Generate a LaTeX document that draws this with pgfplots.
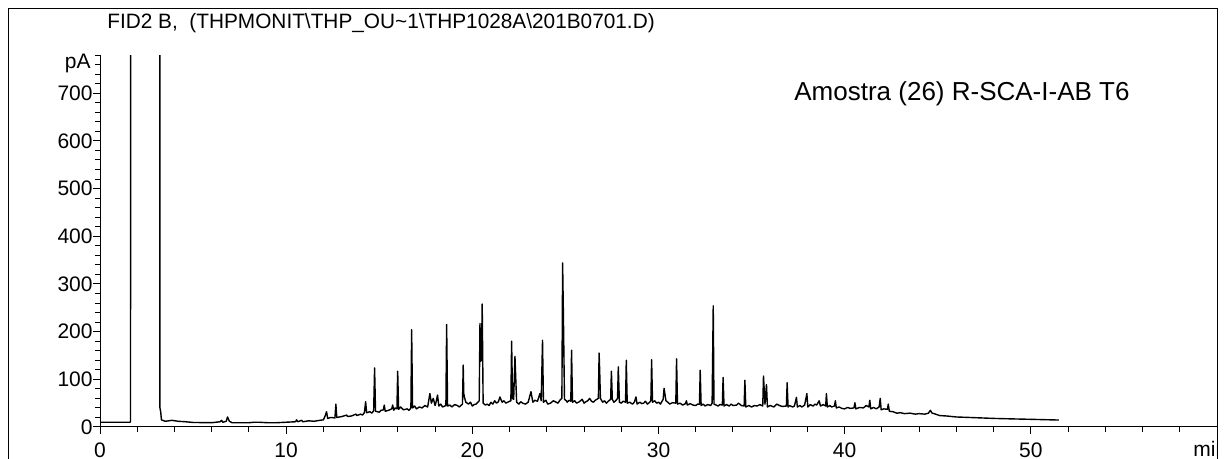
\documentclass[border=0pt]{standalone}
\usepackage{pgfplots}
\pgfplotsset{compat=1.18}
\usepackage{fontspec}
\setmainfont{Liberation Sans}
\begin{document}
\begin{tikzpicture}
\useasboundingbox (0,0) rectangle (614pt,-229.5pt);
\draw[line width=0.5pt] (4pt,-4.5pt) rectangle (608.5pt,-240pt);
\begin{axis}[
  at={(50pt,-213.5pt)}, anchor=south west,
  scale only axis, width=558.5pt, height=186pt,
  xmin=0, xmax=60, ymin=0, ymax=780,
  enlargelimits=false,
  axis lines=left, axis line style={-, line width=0.5pt},
  xtick={0,10,...,50}, minor xtick={0,2,...,58},
  ytick={0,100,...,700}, minor ytick={0,20,...,780},
  tick align=outside,
  major tick length=3.5pt, minor tick length=2.5pt,
  every tick/.style={black, line width=0.5pt},
  /pgf/number format/assume math mode=true,
  ticklabel style={font=\fontsize{10.5}{12}\selectfont},
  xticklabel style={anchor=base, inner sep=0pt, yshift=-11.7pt},
  yticklabel style={anchor=east, inner sep=0pt},
  clip=true,
]
\addplot[black, line width=0.7pt, line join=round] coordinates {
(0,10) (1.6,10) (1.64,11) (1.66,5000) (3.18,5000) (3.22,40) (3.26,32) (3.3,15) (3.5,12) (3.7,13) (3.85,14) (4.2,12) (4.6,11) (5,9.5) (6.0,9) (6.45,11) (6.53,14) (6.6,10) (6.78,12) (6.85,21) (6.95,12) (7.1,9) (8,9) (8.3,10) (8.5,10) (9,9) (9.5,9) (10,10) (10.5,11) (10.56,15) (10.62,11) (10.83,14) (10.9,11) (11.2,13) (11.5,12) (11.8,14) (12,15) (12.08,22) (12.17,32) (12.23,18) (12.4,20) (12.62,19) (12.67,48) (12.72,20) (13,22) (13.25,25) (13.3,22) (13.5,23) (13.75,27) (13.8,24) (14,27) (14.1,25) (14.2,30) (14.27,53) (14.32,30) (14.5,32) (14.6,29) (14.7,34) (14.75,124) (14.8,33) (15,31) (15.1,35) (15.22,36) (15.27,46) (15.32,33) (15.5,35) (15.67,38) (15.72,46) (15.78,35) (15.85,40) (15.95,38) (15.99,117) (16.04,37) (16.15,42) (16.3,36) (16.5,38) (16.6,35) (16.7,40) (16.74,204) (16.79,40) (16.9,44) (17.0,38) (17.15,42) (17.3,40) (17.45,45) (17.6,42) (17.72,70) (17.8,50) (17.9,60) (18.0,45) (18.07,55) (18.13,67) (18.2,44) (18.3,48) (18.4,42) (18.58,45) (18.62,215) (18.67,44) (18.8,46) (18.9,42) (19.05,47) (19.2,45) (19.3,42) (19.47,48) (19.51,130) (19.54,70) (19.58,62) (19.65,52) (19.8,48) (19.9,52) (20.0,44) (20.1,47) (20.2,48) (20.37,55) (20.41,217) (20.45,138) (20.49,140) (20.53,258) (20.58,50) (20.7,46) (20.8,48) (20.9,45) (21.0,52) (21.1,48) (21.2,55) (21.3,50) (21.4,53) (21.48,63) (21.6,52) (21.7,55) (21.8,50) (21.95,53) (22.07,55) (22.11,180) (22.16,60) (22.22,58) (22.29,148) (22.33,105) (22.38,52) (22.5,48) (22.6,53) (22.7,50) (22.85,48) (23.0,52) (23.15,74) (23.25,52) (23.35,56) (23.5,54) (23.63,70) (23.7,55) (23.77,182) (23.82,52) (23.95,56) (24.05,48) (24.2,50) (24.35,55) (24.5,52) (24.6,50) (24.7,56) (24.81,60) (24.85,344) (24.89,241) (24.95,58) (25.05,55) (25.1,52) (25.2,56) (25.29,54) (25.33,161) (25.38,52) (25.5,55) (25.6,50) (25.75,53) (25.9,58) (26.0,50) (26.1,53) (26.2,55) (26.3,60) (26.4,54) (26.5,52) (26.6,56) (26.77,60) (26.81,155) (26.84,119) (26.88,60) (27.0,52) (27.1,55) (27.2,50) (27.3,54) (27.43,58) (27.47,117) (27.52,58) (27.6,52) (27.7,55) (27.8,60) (27.84,126) (27.9,52) (28.0,50) (28.1,54) (28.23,52) (28.27,140) (28.32,50) (28.45,52) (28.6,48) (28.7,52) (28.79,63) (28.85,48) (29.0,52) (29.1,49) (29.2,50) (29.3,54) (29.4,48) (29.5,51) (29.59,55) (29.63,141) (29.68,52) (29.8,55) (29.9,50) (30.0,52) (30.1,48) (30.25,58) (30.3,81) (30.4,55) (30.5,52) (30.6,48) (30.75,51) (30.93,50) (30.97,143) (31.02,48) (31.15,50) (31.3,46) (31.45,49) (31.5,55) (31.55,46) (31.7,49) (31.85,46) (32.0,45) (32.1,48) (32.2,48) (32.24,119) (32.29,45) (32.4,48) (32.5,44) (32.65,47) (32.8,45) (32.88,50) (32.94,254) (32.98,48) (33.1,46) (33.2,44) (33.3,47) (33.43,46) (33.47,104) (33.52,44) (33.65,47) (33.8,44) (33.9,48) (34.0,45) (34.2,46) (34.3,50) (34.45,45) (34.6,44) (34.64,98) (34.69,42) (34.85,45) (35.0,42) (35.15,45) (35.3,44) (35.45,47) (35.6,44) (35.64,107) (35.72,48) (35.8,89) (35.85,42) (36.0,45) (36.2,42) (36.35,48) (36.5,45) (36.65,43) (36.87,44) (36.91,93) (36.96,42) (37.05,45) (37.2,42) (37.3,44) (37.41,62) (37.46,42) (37.6,45) (37.7,42) (37.85,46) (37.97,70) (38.02,42) (38.15,47) (38.3,44) (38.4,48) (38.5,46) (38.63,55) (38.7,44) (38.85,47) (38.98,44) (39.02,70) (39.07,42) (39.2,45) (39.3,42) (39.45,44) (39.5,55) (39.55,40) (39.7,42) (39.85,39) (40.0,38) (40.15,41) (40.3,39) (40.5,40) (40.55,51) (40.6,38) (40.8,41) (41.0,40) (41.1,43) (41.15,45) (41.3,42) (41.35,56) (41.4,38) (41.55,41) (41.7,38) (41.85,42) (41.91,60) (41.96,36) (42.1,38) (42.3,37) (42.34,48) (42.4,33) (42.6,32) (42.8,29) (43.0,30) (43.2,28) (43.5,29) (43.8,27) (44.0,28) (44.3,27) (44.5,29) (44.6,35) (44.7,29) (44.8,28) (45.1,24) (45.5,23) (46.0,21) (46.7,20) (48,18) (49,17) (50.1,16) (51.5,14.6)
};
\end{axis}
\node[anchor=base east, inner sep=0pt, font=\fontsize{10.5}{12}\selectfont] at (45.5pt,-34.5pt) {pA};
\node[anchor=base west, inner sep=0pt, font=\fontsize{10.4}{12}\selectfont] at (53.5pt,-14.25pt) {FID2 B,\ \ (THPMONIT\textbackslash THP\_OU\textasciitilde 1\textbackslash THP1028A\textbackslash 201B0701.D)};
\node[anchor=base west, inner sep=0pt, font=\fontsize{13}{15}\selectfont] at (397pt,-50.5pt) {Amostra (26) R-SCA-I-AB T6};
\begin{scope}
\clip (4pt,0pt) rectangle (608.3pt,-229.5pt);
\node[anchor=base west, inner sep=0pt, font=\fontsize{10.5}{12}\selectfont] at (596.5pt,-228.5pt) {min};
\end{scope}
\end{tikzpicture}
\end{document}
